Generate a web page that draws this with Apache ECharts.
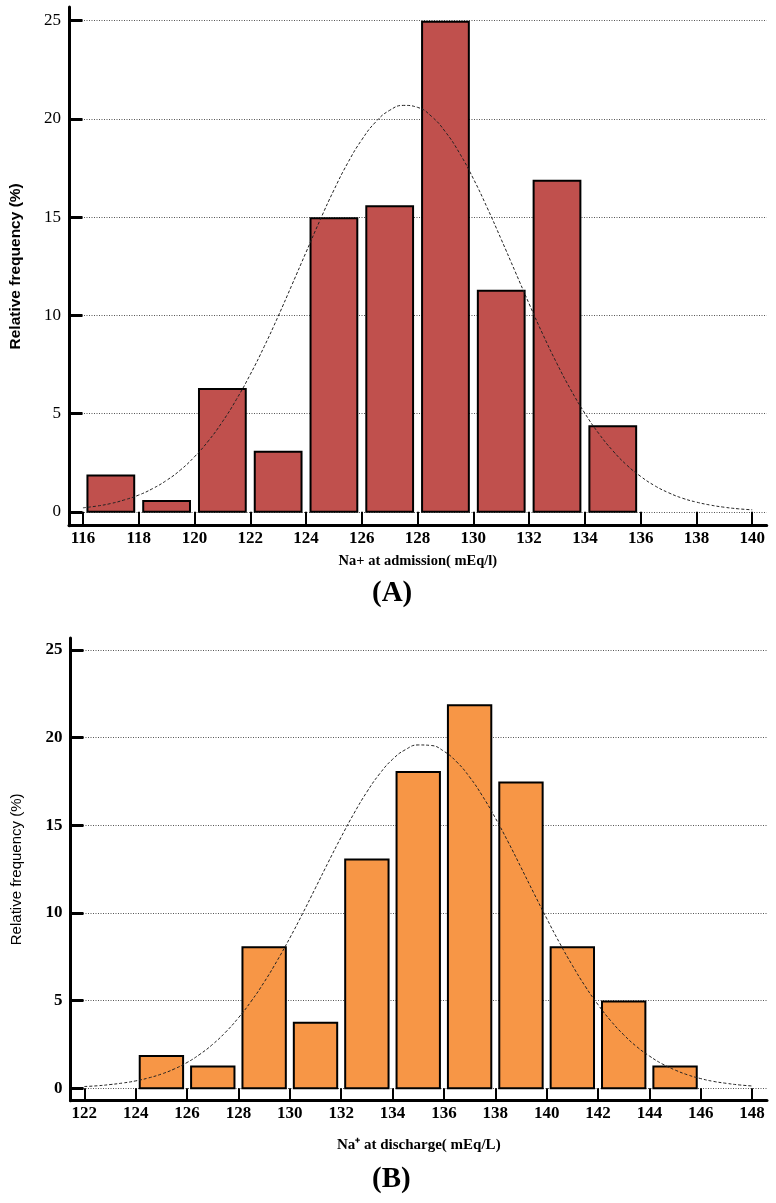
<!DOCTYPE html>
<html>
<head>
<meta charset="utf-8">
<script src="https://cdn.jsdelivr.net/npm/echarts@6/dist/echarts.min.js"></script>
<style>html,body{margin:0;padding:0;background:#fff;}#c{width:776px;height:1203px;}</style>
</head>
<body>
<div id="c"></div>
<script>
// ---- Panel A data: Na+ at admission ----
const binStartA = [116, 118, 120, 122, 124, 126, 128, 130, 132, 134];
const freqA = [1.9, 0.6, 6.3, 3.1, 15.0, 15.6, 25.0, 11.3, 16.9, 4.4];
const curveXA = [116,116.5,117,117.5,118,118.5,119,119.5,120,120.5,121,121.5,122,122.5,123,123.5,124,124.5,125,125.5,126,126.5,127,127.5,128,128.5,129,129.5,130,130.5,131,131.5,132,132.5,133,133.5,134,134.5,135,135.5,136,136.5,137,137.5,138,138.5,139,139.5,140];
const curveYA = [0.20,0.29,0.42,0.61,0.85,1.18,1.60,2.13,2.80,3.61,4.58,5.71,6.99,8.41,9.95,11.57,13.21,14.84,16.38,17.77,18.94,19.85,20.44,20.69,20.59,20.13,19.34,18.27,16.96,15.47,13.87,12.23,10.59,9.01,7.54,6.20,5.01,3.98,3.11,2.38,1.80,1.33,0.97,0.69,0.49,0.34,0.23,0.15,0.10];
const xTicksA = [116,118,120,122,124,126,128,130,132,134,136,138,140];

// ---- Panel B data: Na+ at discharge ----
const binStartB = [124, 126, 128, 130, 132, 134, 136, 138, 140, 142, 144];
const freqB = [1.9, 1.3, 8.1, 3.8, 13.1, 18.1, 21.9, 17.5, 8.1, 5.0, 1.3];
const curveXB = [122,122.5,123,123.5,124,124.5,125,125.5,126,126.5,127,127.5,128,128.5,129,129.5,130,130.5,131,131.5,132,132.5,133,133.5,134,134.5,135,135.5,136,136.5,137,137.5,138,138.5,139,139.5,140,140.5,141,141.5,142,142.5,143,143.5,144,144.5,145,145.5,146,146.5,147,147.5,148];
const curveYB = [0.10,0.14,0.21,0.30,0.42,0.59,0.81,1.10,1.47,1.94,2.51,3.20,4.02,4.97,6.05,7.26,8.57,9.97,11.43,12.90,14.33,15.68,16.90,17.94,18.76,19.31,19.58,19.55,19.22,18.61,17.75,16.67,15.42,14.05,12.60,11.13,9.69,8.30,7.01,5.82,4.77,3.84,3.05,2.38,1.84,1.39,1.04,0.76,0.55,0.39,0.28,0.19,0.13];
const xTicksB = [122,124,126,128,130,132,134,136,138,140,142,144,146,148];

const yTicks = [0, 5, 10, 15, 20, 25];
const binWidth = 2;

function barRenderer(color, inset) {
  return function (params, api) {
    const x0 = api.value(0), x1 = api.value(1), v = api.value(2);
    const p0 = api.coord([x0, 0]);
    const p1 = api.coord([x1, v]);
    return {
      type: 'rect',
      shape: { x: p0[0] + inset + 1, y: p1[1] + 1, width: p1[0] - p0[0] - 2 * inset - 2, height: p0[1] - p1[1] - 1 },
      style: { fill: color, stroke: '#000', lineWidth: 2 }
    };
  };
}

const chart = echarts.init(document.getElementById('c'), null, { renderer: 'canvas' });

function yAxisCfg(gridIndex, max, labelFont, nameFont, tickLen) {
  return {
    type: 'value', gridIndex: gridIndex, min: -0.71, max: max,
    name: 'Relative frequency (%)', nameLocation: 'middle',
    nameGap: nameFont.gap,
    nameTextStyle: { fontFamily: nameFont.family, fontWeight: nameFont.weight, fontSize: nameFont.size, color: '#000' },
    axisLine: { show: true, onZero: false, lineStyle: { color: '#000', width: 3 } },
    axisTick: { show: true, inside: true, length: tickLen, customValues: yTicks, lineStyle: { color: '#000', width: 3 } },
    axisLabel: { customValues: yTicks, margin: 8, fontFamily: labelFont.family, fontWeight: labelFont.weight, fontSize: labelFont.size, color: '#000' },
    splitLine: { show: true, lineStyle: { color: '#555', type: [1, 1.5], width: 1 } }
  };
}

function xAxisCfg(gridIndex, min, max, ticks, name, tickLen, nameGap, labelFont, nameFont) {
  return {
    type: 'value', gridIndex: gridIndex, min: min, max: max,
    name: name, nameLocation: 'middle', nameGap: nameGap,
    nameTextStyle: { fontFamily: nameFont.family, fontWeight: nameFont.weight, fontSize: nameFont.size, color: '#000' },
    axisLine: { show: true, onZero: false, lineStyle: { color: '#000', width: 3 } },
    axisTick: { show: true, inside: true, length: tickLen, customValues: ticks, lineStyle: { color: '#000', width: 2 } },
    axisLabel: { customValues: ticks, margin: 4, fontFamily: labelFont.family, fontWeight: labelFont.weight, fontSize: labelFont.size, color: '#000' },
    splitLine: { show: false }
  };
}

const panelRich = {
  p: { fontFamily: 'Liberation Serif', fontSize: 29, color: '#000' },
  b: { fontFamily: 'Liberation Serif', fontWeight: 'bold', fontSize: 29, color: '#000' }
};

const option = {
  backgroundColor: '#fff',
  animation: false,
  title: [
    { text: '{p|(}{b|A}{p|)}', left: 367, top: 574, textStyle: { rich: panelRich } },
    { text: '{p|(}{b|B}{p|)}', left: 367, top: 1160, textStyle: { rich: panelRich } }
  ],
  grid: [
    { left: 68.5, right: 9.3, top: 7, bottom: 677.3 },
    { left: 70.5, right: 9, top: 638, bottom: 102.3 }
  ],
  xAxis: [
    xAxisCfg(0, 115.5, 140.52, xTicksA, 'Na+ at admission( mEq/l)', 14, 28,
      { family: 'Liberation Serif', weight: 'bold', size: 17 },
      { family: 'Liberation Serif', weight: 'bold', size: 14.5 }),
    xAxisCfg(1, 121.46, 148.58, xTicksB, 'Na\u207A at discharge( mEq/L)', 12.4, 37,
      { family: 'Liberation Serif', weight: 'bold', size: 17 },
      { family: 'Liberation Serif', weight: 'bold', size: 15 })
  ],
  yAxis: [
    yAxisCfg(0, 25.7, { family: 'Liberation Serif', weight: 'normal', size: 17 }, { family: 'Liberation Sans', weight: 'bold', size: 15.5, gap: 45 }, 13.5),
    yAxisCfg(1, 25.68, { family: 'Liberation Serif', weight: 'bold', size: 17 }, { family: 'Liberation Sans', weight: 'normal', size: 15, gap: 46 }, 13)
  ],
  series: [
    {
      type: 'custom', xAxisIndex: 0, yAxisIndex: 0,
      renderItem: barRenderer('#c0504d', 3.5),
      encode: { x: [0, 1], y: 2 },
      data: binStartA.map((s, i) => [s, s + binWidth, freqA[i]]),
      z: 3
    },
    {
      type: 'line', xAxisIndex: 0, yAxisIndex: 0, smooth: true, showSymbol: false, silent: true,
      lineStyle: { color: '#222', width: 1, type: [3, 2] },
      data: curveXA.map((x, i) => [x, curveYA[i]]),
      z: 4
    },
    {
      type: 'custom', xAxisIndex: 1, yAxisIndex: 1,
      renderItem: barRenderer('#f79646', 3),
      encode: { x: [0, 1], y: 2 },
      data: binStartB.map((s, i) => [s, s + binWidth, freqB[i]]),
      z: 3
    },
    {
      type: 'line', xAxisIndex: 1, yAxisIndex: 1, smooth: true, showSymbol: false, silent: true,
      lineStyle: { color: '#222', width: 1, type: [3, 2] },
      data: curveXB.map((x, i) => [x, curveYB[i]]),
      z: 4
    }
  ]
};
chart.setOption(option);
</script>
</body>
</html>
